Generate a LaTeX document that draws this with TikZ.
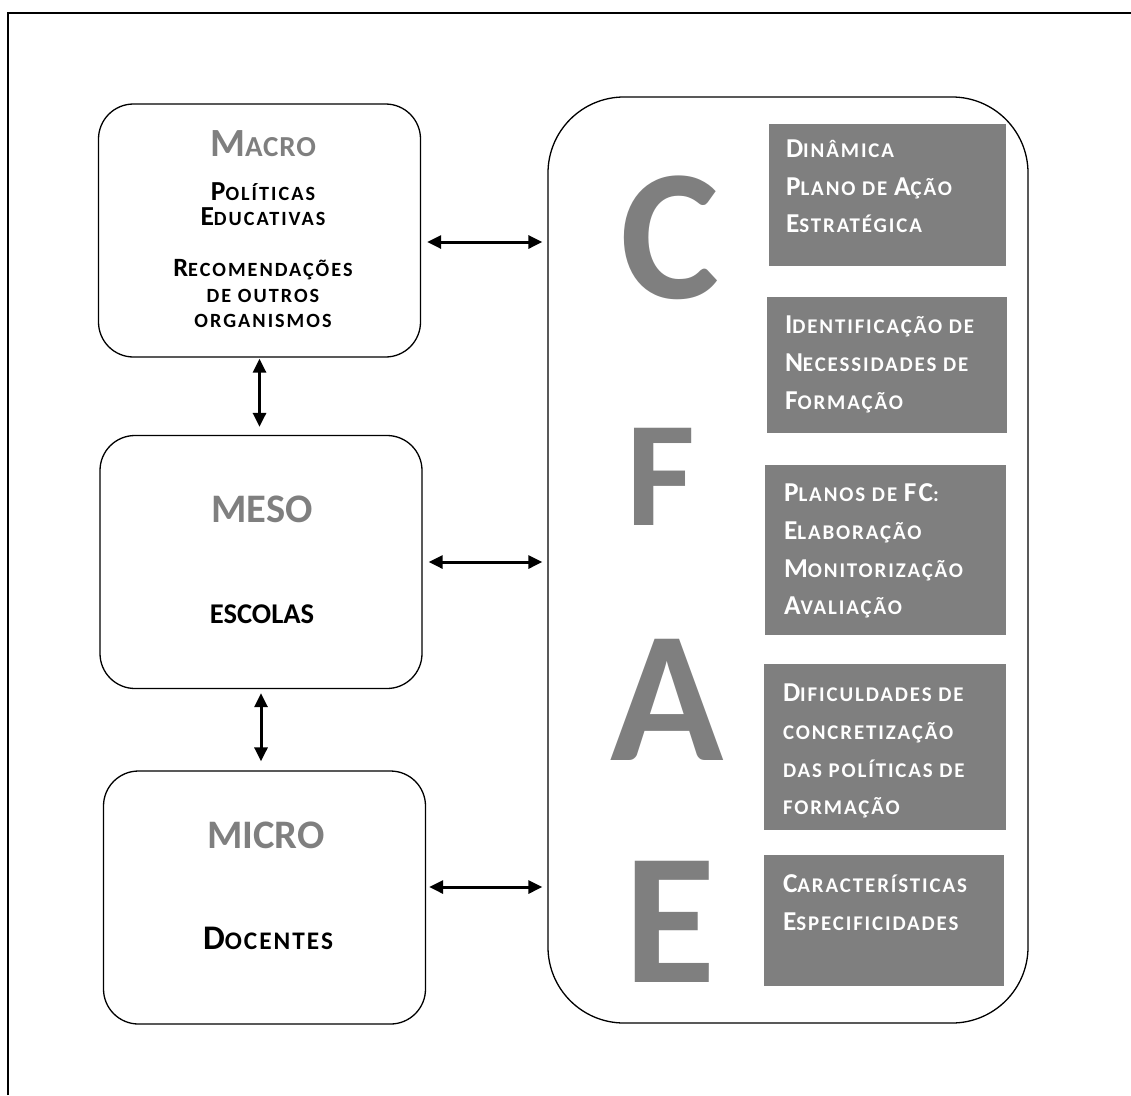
\documentclass[tikz,border=0pt]{standalone}
\usepackage{fontspec}
\setmainfont{Carlito}
\usetikzlibrary{arrows.meta,positioning}
\definecolor{cfaegray}{RGB}{127,127,127}
\newcommand{\initial}[2][27.3pt]{{\fontsize{#1}{#1}\selectfont #2}}

\begin{document}
\begin{tikzpicture}[x=1pt, y=-1pt,
    level/.style={draw, line width=1.3pt, rounded corners=35pt, minimum width=322pt, minimum height=253pt, inner sep=0pt},
    cfae/.style={draw, line width=1.3pt, rounded corners=76pt, minimum width=480pt, minimum height=926pt, inner sep=0pt},
    topic/.style={fill=cfaegray, inner sep=0pt},
    topictext/.style={text=white, font=\bfseries\fontsize{20.9pt}{37.7pt}\selectfont\addfontfeatures{LetterSpace=9},
        align=left, anchor=base west, inner sep=0pt},
    levelname/.style={text=cfaegray, font=\bfseries\fontsize{40.5pt}{40.5pt}\selectfont, anchor=base, inner sep=0pt},
    leveltext/.style={font=\bfseries\fontsize{20.2pt}{25.5pt}\selectfont\addfontfeatures{LetterSpace=10},
        align=center, anchor=base, inner sep=0pt},
    letter/.style={text=cfaegray, font=\bfseries\fontsize{187pt}{187pt}\selectfont, anchor=base, inner sep=0pt},
    biarrow/.style={{Triangle[length=14pt,width=13pt]}-{Triangle[length=14pt,width=13pt]}, line width=3pt}]
    \useasboundingbox (0,0) rectangle (1131,1095);
    \draw[line width=1.3pt] (8,1095) -- (8,13) -- (1131,13);

    % levels
    \node[level] (macro) at (259.5,230.5) {};
    \node[level] (meso) at (261,562) {};
    \node[level] (micro) at (264.5,897.5) {};

    \node[levelname, font=\bfseries\fontsize{29pt}{29pt}\selectfont\addfontfeatures{LetterSpace=3}] (macroname) at (263,156) {\initial[40pt]{M}ACRO};
    \node[leveltext] (macrotext) at (263,327.5) {\initial[27.5pt]{P}OLÍTICAS\\\initial[27.5pt]{E}DUCATIVAS\\[25.5pt]
        \initial[26.4pt]{R}ECOMENDAÇÕES\\DE OUTROS\\ORGANISMOS};
    \node[levelname] (mesoname) at (262,522) {MESO};
    \node[leveltext, font=\bfseries\fontsize{28.6pt}{28.6pt}\selectfont] (mesotext) at (262,623) {ESCOLAS};
    \node[levelname] (microname) at (266,848) {MICRO};
    \node[leveltext, font=\bfseries\fontsize{25.3pt}{25.3pt}\selectfont\addfontfeatures{LetterSpace=8}] (microtext) at (268,949) {\initial[34.5pt]{D}OCENTES};

    % CFAE
    \node[cfae] (cfae) at (788,560) {};
    \node[letter] (c) at (670,298) {C};
    \node[letter, font=\bfseries\fontsize{150pt}{150pt}\selectfont] (f) at (661,525) {F};
    \node[letter] (a) at (667,760) {A};
    \node[letter] (e) at (670,982) {E};

    \node[topic, minimum width=237pt, minimum height=142pt] (g1) at (887.5,195) {};
    \node[topic, minimum width=240pt, minimum height=136pt] (g2) at (887,365) {};
    \node[topic, minimum width=241pt, minimum height=170pt] (g3) at (885.5,550) {};
    \node[topic, minimum width=242pt, minimum height=166pt] (g4) at (885,747) {};
    \node[topic, minimum width=240pt, minimum height=131pt] (g5) at (884,920.5) {};

    \node[topictext] (t1) at ([xshift=17pt,yshift=-109pt]g1.north west)
        {\initial{D}INÂMICA\\\initial{P}LANO DE \initial{A}ÇÃO\\\initial{E}STRATÉGICA};
    \node[topictext] (t2) at ([xshift=18pt,yshift=-112.4pt]g2.north west)
        {\initial{I}DENTIFICAÇÃO DE\\\initial{N}ECESSIDADES DE\\\initial{F}ORMAÇÃO};
    \node[topictext] (t3) at ([xshift=19pt,yshift=-150pt]g3.north west)
        {\initial{P}LANOS DE \initial{FC}:\\\initial{E}LABORAÇÃO\\\initial{M}ONITORIZAÇÃO\\\initial{A}VALIAÇÃO};
    \node[topictext] (t4) at ([xshift=19pt,yshift=-151pt]g4.north west)
        {\initial{D}IFICULDADES DE\\CONCRETIZAÇÃO\\DAS POLÍTICAS DE\\FORMAÇÃO};
    \node[topictext] (t5) at ([xshift=19pt,yshift=-75.7pt]g5.north west)
        {\initial{C}ARACTERÍSTICAS\\\initial{E}SPECIFICIDADES};

    % links
    \draw[biarrow, shorten <=6pt, shorten >=5pt] ([yshift=-11.5pt]macro.east) -- ([yshift=-11.5pt]macro.east -| cfae.west);
    \draw[biarrow, shorten <=6pt, shorten >=5pt] (meso.east) -- (meso.east -| cfae.west);
    \draw[biarrow, shorten <=3pt, shorten >=5pt] ([yshift=10.5pt]micro.east) -- ([yshift=10.5pt]micro.east -| cfae.west);
    \draw[biarrow, shorten <=1pt, shorten >=8pt] (macro.south) -- (macro.south |- meso.north);
    \draw[biarrow, shorten <=4pt, shorten >=9pt] (meso.south) -- (meso.south |- micro.north);
\end{tikzpicture}
\end{document}
